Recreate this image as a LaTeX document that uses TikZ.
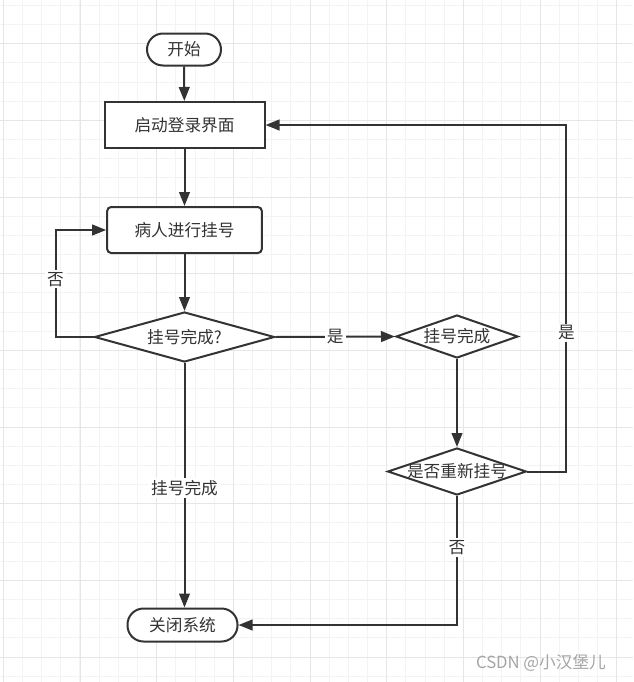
\documentclass[tikz,border=0pt]{standalone}
\usepackage{fontspec}
\setmainfont{Noto Sans CJK SC}
\usepackage{tikz}
\usetikzlibrary{positioning, arrows.meta, shapes.geometric}
\definecolor{linecolor}{RGB}{51,51,51}
\definecolor{gridminor}{RGB}{243,243,243}
\definecolor{gridmajor}{RGB}{230,230,230}
\definecolor{markcolor}{RGB}{165,165,165}

\begin{document}
\begin{tikzpicture}[x=0.75pt, y=-0.75pt,
    every node/.style={font=\fontsize{12.5}{14}\selectfont, text=linecolor},
    termbox/.style={draw=linecolor, line width=1.5pt, fill=white, rounded corners=12pt, inner sep=0pt},
    procbox/.style={draw=linecolor, line width=1.5pt, fill=white, inner sep=0pt, minimum height=34.5pt},
    decbox/.style={draw=linecolor, line width=1.5pt, fill=white, diamond, inner sep=0pt},
    flow/.style={draw=linecolor, line width=1.5pt, -{Triangle[length=10.5pt, width=8pt]}},
    lbl/.style={fill=white, inner sep=1.5pt}]
    % Fond et grille
    \useasboundingbox (0,0) rectangle (633,682);
    \fill[white] (0,0) rectangle (633,682);
    \foreach \k in {0,...,32}
        \draw[gridminor, line width=0.75pt] ({3.33+\k*19.167},0) -- ++(0,682);
    \foreach \k in {0,...,35}
        \draw[gridminor, line width=0.75pt] (0,{5.36+\k*19.167}) -- ++(633,0);
    \foreach \k in {0,...,8}
        \draw[gridmajor, line width=0.75pt] ({3.33+\k*76.67},0) -- ++(0,682);
    \foreach \k in {0,...,8}
        \draw[gridmajor, line width=0.75pt] (0,{43.7+\k*76.67}) -- ++(633,0);

    % Noeuds
    \node[termbox, minimum width=55.5pt, minimum height=24pt] (start) at (184,49.5) {开始};
    \node[procbox, minimum width=120pt] (login) at (184.5,125) {启动登录界面};
    \node[procbox, rounded corners=3pt, minimum width=116pt] (reg) at (184.5,230) {病人进行挂号};
    \node[decbox, aspect=3.6, minimum width=135pt, minimum height=37.5pt] (done) at (184.5,337) {挂号完成?};
    \node[decbox, aspect=2.84, minimum width=91.5pt, minimum height=32.25pt] (check) at (457,336.5) {挂号完成};
    \node[decbox, aspect=2.95, inner xsep=-5pt, minimum width=104pt, minimum height=35.25pt] (again) at (457,471.5) {是否重新挂号};
    \node[termbox, minimum width=82.5pt, minimum height=24.75pt] (close) at (182.5,625) {关闭系统};

    % Fleches
    \draw[flow] (start) -- (login);
    \draw[flow] (login) -- (reg);
    \draw[flow] (reg) -- (done);
    \draw[flow] (done.west) -- ++(-38,0) |- node[lbl, pos=0.27] {否} (reg.west);
    \draw[flow] (done.east) -- node[lbl] {是} (check.west);
    \draw[flow] (check.south) -- (again.north);
    \draw[flow] (again.east) -- ++(39,0) |- node[lbl, pos=0.2] {是} (login.east);
    \draw[flow] (again.south) |- node[lbl, pos=0.2] {否} (close.east);
    \draw[flow] (done.south) -- node[lbl, pos=0.51] {挂号完成} (done.south |- close.north);

    % Filigrane
    \node[text=markcolor] (mark) at (541,663) {CSDN @小汉堡儿};
\end{tikzpicture}
\end{document}
